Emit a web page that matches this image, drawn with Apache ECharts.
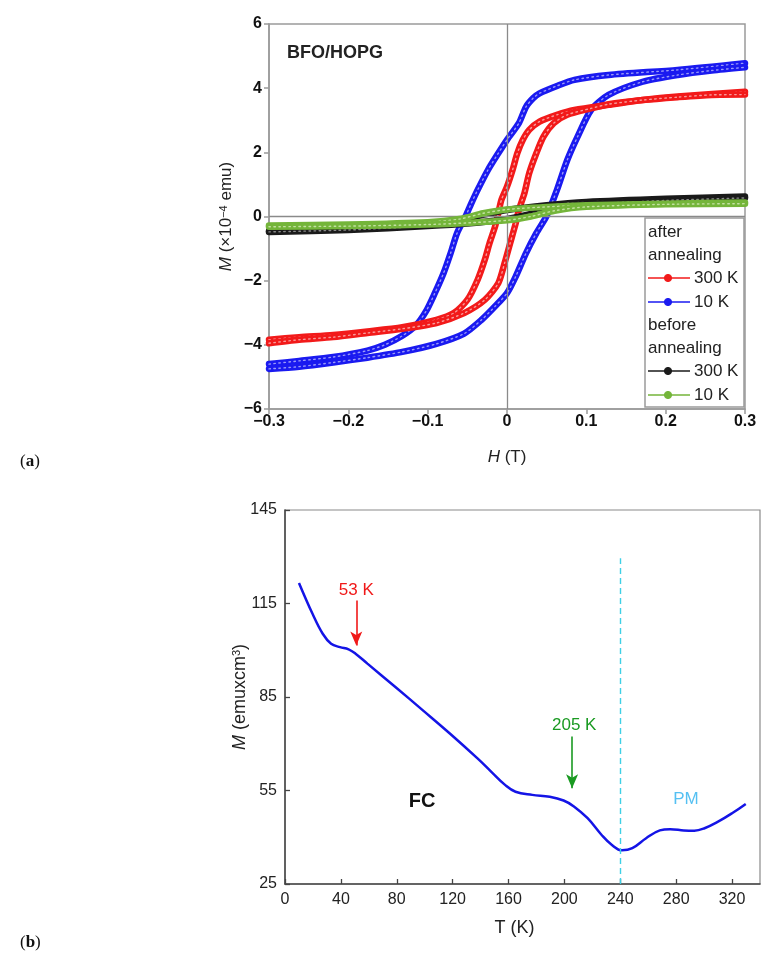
<!DOCTYPE html>
<html>
<head>
<meta charset="utf-8">
<script src="https://cdn.jsdelivr.net/npm/echarts@6/dist/echarts.min.js"></script>
<style>html,body{margin:0;padding:0;background:#fff}#c{width:783px;height:966px}</style>
</head>
<body>
<div id="c"></div>
<script>
// ---------- Panel (a): hysteresis loops, H (T) vs M (x10^-4 emu) ----------
const blueUpper = [[-0.3,-4.6],[-0.262,-4.5],[-0.219,-4.38],[-0.176,-4.18],[-0.154,-4.0],[-0.132,-3.72],[-0.115,-3.4],[-0.102,-2.95],[-0.091,-2.39],[-0.08,-1.77],[-0.071,-1.14],[-0.063,-0.52],[-0.052,0.02],[-0.045,0.41],[-0.037,0.83],[-0.024,1.45],[-0.011,1.97],[0,2.39],[0.015,2.91],[0.024,3.42],[0.033,3.69],[0.041,3.84],[0.063,4.07],[0.085,4.26],[0.128,4.41],[0.215,4.57],[0.3,4.78]];
const blueLower = [[-0.3,-4.75],[-0.262,-4.68],[-0.219,-4.55],[-0.176,-4.4],[-0.132,-4.22],[-0.089,-3.97],[-0.054,-3.65],[-0.032,-3.22],[-0.015,-2.8],[0,-2.39],[0.011,-1.87],[0.024,-1.14],[0.037,-0.52],[0.05,0.02],[0.063,0.83],[0.076,1.76],[0.089,2.49],[0.106,3.32],[0.128,3.79],[0.171,4.2],[0.215,4.41],[0.258,4.55],[0.3,4.65]];
const redUpper = [[-0.3,-3.84],[-0.262,-3.76],[-0.219,-3.69],[-0.176,-3.58],[-0.132,-3.45],[-0.089,-3.22],[-0.067,-3.01],[-0.05,-2.6],[-0.037,-1.97],[-0.028,-1.35],[-0.022,-0.83],[-0.015,-0.31],[-0.011,0.1],[-0.007,0.52],[0,0.93],[0.007,1.45],[0.013,1.97],[0.02,2.39],[0.028,2.7],[0.041,2.96],[0.063,3.17],[0.085,3.32],[0.128,3.48],[0.171,3.63],[0.215,3.74],[0.3,3.89]];
const redLower = [[-0.3,-3.95],[-0.262,-3.84],[-0.219,-3.76],[-0.176,-3.63],[-0.132,-3.5],[-0.089,-3.32],[-0.054,-3.01],[-0.028,-2.6],[-0.011,-2.08],[-0.003,-1.45],[0.004,-0.83],[0.011,-0.21],[0.015,0.21],[0.022,0.73],[0.028,1.35],[0.037,1.97],[0.046,2.49],[0.059,2.91],[0.076,3.17],[0.106,3.37],[0.128,3.5],[0.171,3.63],[0.215,3.72],[0.258,3.79],[0.3,3.8]];
const blackUpper = [[-0.3,-0.45],[-0.2,-0.38],[-0.1,-0.25],[-0.06,-0.12],[-0.03,0.05],[0,0.2],[0.05,0.35],[0.1,0.45],[0.2,0.55],[0.3,0.62]];
const blackLower = [[-0.3,-0.48],[-0.2,-0.42],[-0.1,-0.3],[-0.05,-0.22],[0,-0.08],[0.03,0.08],[0.06,0.25],[0.1,0.38],[0.2,0.5],[0.3,0.58]];
const greenUpper = [[-0.3,-0.28],[-0.2,-0.25],[-0.1,-0.18],[-0.06,-0.08],[-0.03,0.1],[0,0.22],[0.05,0.3],[0.1,0.35],[0.2,0.4],[0.3,0.44]];
const greenLower = [[-0.3,-0.32],[-0.2,-0.3],[-0.1,-0.25],[-0.05,-0.2],[0,-0.12],[0.03,0.0],[0.06,0.18],[0.1,0.3],[0.2,0.38],[0.3,0.4]];
const topXTicks = [-0.3, 0.3, 0.1];
const topYTicks = [-6, 6, 2];

// ---------- Panel (b): FC magnetization, T (K) vs M ----------
const fcT = [10,19.7,27,33,39.4,45.5,50.5,59,78.8,98.5,118,137.8,147.7,157.5,165,177,189.5,199.4,206.8,216.6,226.5,233.8,241.2,248.6,258.5,268.3,275.7,285.5,293,300.3,310,320,329.8];
const fcM = [121.6,111.7,105.3,102.1,101,100.3,98.9,95.7,88.3,80.8,73.3,65.3,61,56.8,54.6,53.6,53,51.8,49.9,46.1,40.8,37.6,35.8,36.5,39.7,42.2,42.6,42.2,42.1,42.9,45,47.7,50.7];
const botXTicks = [0, 340, 40];
const botYTicks = [25, 145, 30];
const tcLine = 240;       // dashed PM boundary (K)
const marks = [{label:'53 K', T:51}, {label:'205 K', T:205.5}];

const FONT = '"Liberation Sans", Arial, sans-serif';
const fmtMinus = v => { const r = Math.round(v*10)/10; return r < 0 ? '\u2212' + Math.abs(r) : String(r); };

const chart = echarts.init(document.getElementById('c'), null, {renderer:'canvas'});

function loop(name, data, color, inner, z) {
  return [{
    name, type:'line', xAxisIndex:0, yAxisIndex:0, data, showSymbol:false, smooth:0.25,
    z, lineStyle:{color, width:6.5, cap:'round', join:'round'}, itemStyle:{color}, silent:true, animation:false
  },{
    name, type:'line', xAxisIndex:0, yAxisIndex:0, data, showSymbol:false, smooth:0.25,
    z, lineStyle:{color:inner, width:1.4, type:[1.5,3.5], cap:'round'}, itemStyle:{color}, silent:true, animation:false
  }];
}

const legendItems = [
  {t:'after', y:232},
  {t:'annealing', y:255},
  {t:'300 K', y:278, c:'#f21a1a'},
  {t:'10 K', y:302, c:'#1a1af0'},
  {t:'before', y:325},
  {t:'annealing', y:348},
  {t:'300 K', y:371, c:'#1a1a1a'},
  {t:'10 K', y:395, c:'#74b53a'}
];
const graphics = [
  {type:'rect', shape:{x:645, y:218, width:99, height:189}, style:{fill:'#fff', stroke:'#9a9a9a', lineWidth:1.5}, z:100}
];
legendItems.forEach(it => {
  if (it.c) {
    graphics.push({type:'line', shape:{x1:648, y1:it.y, x2:690, y2:it.y}, style:{stroke:it.c, lineWidth:1.6}, z:101});
    graphics.push({type:'circle', shape:{cx:668, cy:it.y, r:3.6}, style:{fill:it.c, stroke:it.c}, z:102});
    graphics.push({type:'text', x:694, y:it.y, style:{text:it.t, fontSize:17, fontFamily:FONT, fill:'#222', verticalAlign:'middle'}, z:102});
  } else {
    graphics.push({type:'text', x:648, y:it.y, style:{text:it.t, fontSize:17, fontFamily:FONT, fill:'#222', verticalAlign:'middle'}, z:102});
  }
});
graphics.push({type:'text', x:287, y:53, style:{text:'BFO/HOPG', fontSize:18, fontWeight:'bold', fontFamily:FONT, fill:'#222', verticalAlign:'middle'}, z:50});
graphics.push({type:'text', x:20, y:462, style:{text:'({b|a})', fontSize:17, fontFamily:'"Liberation Serif", "DejaVu Serif", serif', fill:'#111', verticalAlign:'middle', rich:{b:{fontWeight:'bold', fontSize:17, fontFamily:'"Liberation Serif", serif'}}}});
graphics.push({type:'text', x:20, y:943, style:{text:'({b|b})', fontSize:17, fontFamily:'"Liberation Serif", "DejaVu Serif", serif', fill:'#111', verticalAlign:'middle', rich:{b:{fontWeight:'bold', fontSize:17, fontFamily:'"Liberation Serif", serif'}}}});

const option = {
  animation:false,
  backgroundColor:'#fff',
  textStyle:{fontFamily:FONT},
  grid:[
    {left:269, top:24, right:38, bottom:557, show:true, borderColor:'#9a9a9a', borderWidth:1.5, containLabel:false},
    {left:285, top:510, right:23, bottom:82, show:true, borderColor:'#8a8a8a', borderWidth:1.2, containLabel:false}
  ],
  xAxis:[
    {gridIndex:0, type:'value', min:topXTicks[0], max:topXTicks[1], interval:topXTicks[2],
     axisLine:{onZero:false, lineStyle:{color:'#9a9a9a', width:1.5}}, axisTick:{inside:false, length:5, lineStyle:{color:'#9a9a9a', width:1.5}},
     axisLabel:{formatter:fmtMinus, fontSize:16, fontWeight:'bold', color:'#111', margin:5, fontFamily:FONT},
     splitLine:{show:false},
     name:'{i|H} (T)', nameLocation:'middle', nameGap:40,
     nameTextStyle:{fontSize:17, color:'#222', fontFamily:FONT, rich:{i:{fontStyle:'italic', fontSize:17, fontFamily:FONT}}}},
    {gridIndex:1, type:'value', min:botXTicks[0], max:botXTicks[1], interval:botXTicks[2],
     axisLine:{onZero:false, lineStyle:{color:'#444', width:1.5}}, axisTick:{inside:true, length:5, lineStyle:{color:'#444', width:1.3}},
     axisLabel:{fontSize:16, color:'#222', margin:8, fontFamily:FONT, showMaxLabel:false},
     splitLine:{show:false},
     name:'T (K)', nameLocation:'middle', nameGap:35,
     nameTextStyle:{fontSize:18, color:'#222', fontFamily:FONT, padding:[0,16,0,0]}}
  ],
  yAxis:[
    {gridIndex:0, type:'value', min:topYTicks[0], max:topYTicks[1], interval:topYTicks[2],
     axisLine:{onZero:false, lineStyle:{color:'#9a9a9a', width:1.5}}, axisTick:{inside:false, length:5, lineStyle:{color:'#9a9a9a', width:1.5}},
     axisLabel:{formatter:fmtMinus, fontSize:16, fontWeight:'bold', color:'#111', margin:7, fontFamily:FONT},
     splitLine:{show:false},
     name:'{i|M} (\u00d710{s|\u22124} emu)', nameLocation:'middle', nameGap:34, nameRotate:90, nameMoveOverlap:false,
     nameTextStyle:{fontSize:17, color:'#222', fontFamily:FONT, rich:{i:{fontStyle:'italic', fontSize:17, fontFamily:FONT}, s:{fontSize:11, verticalAlign:'top', fontFamily:FONT}}}},
    {gridIndex:1, type:'value', min:botYTicks[0], max:botYTicks[1], interval:botYTicks[2],
     axisLine:{onZero:false, lineStyle:{color:'#444', width:1.5}}, axisTick:{inside:true, length:5, lineStyle:{color:'#444', width:1.3}},
     axisLabel:{fontSize:16, color:'#222', margin:8, fontFamily:FONT},
     splitLine:{show:false},
     name:'{i|M} (emuxcm{s|3})', nameLocation:'middle', nameGap:36, nameRotate:90, nameMoveOverlap:false,
     nameTextStyle:{fontSize:18, color:'#222', fontFamily:FONT, rich:{i:{fontStyle:'italic', fontSize:18, fontFamily:FONT}, s:{fontSize:11, verticalAlign:'top', fontFamily:FONT}}}}
  ],
  graphic: graphics,
  series:[
    {type:'line', xAxisIndex:0, yAxisIndex:0, data:[], silent:true, z:1,
     markLine:{silent:true, symbol:['none','none'], label:{show:false}, lineStyle:{color:'#8a8a8a', width:1.3, type:'solid'},
       data:[{xAxis:0},{yAxis:0}]}},
    ...loop('10 K after', blueUpper, '#1a1af0', '#9a9af8', 2),
    ...loop('10 K after', blueLower, '#1a1af0', '#9a9af8', 2),
    ...loop('300 K after', redUpper, '#f21a1a', '#f89a9a', 3),
    ...loop('300 K after', redLower, '#f21a1a', '#f89a9a', 3),
    ...loop('300 K before', blackUpper, '#1a1a1a', '#888888', 4),
    ...loop('300 K before', blackLower, '#1a1a1a', '#888888', 4),
    ...loop('10 K before', greenUpper, '#74b53a', '#c4e0a4', 5),
    ...loop('10 K before', greenLower, '#74b53a', '#c4e0a4', 5),
    {name:'FC', type:'line', xAxisIndex:1, yAxisIndex:1, data:fcT.map((t,i)=>[t,fcM[i]]), showSymbol:false, smooth:0.4,
     lineStyle:{color:'#1414e6', width:2.5}, itemStyle:{color:'#1414e6'}, silent:true, z:3},
    {type:'line', xAxisIndex:1, yAxisIndex:1, data:[], silent:true, z:2,
     markLine:{silent:true, label:{show:false}, animation:false,
       data:[
         [{coord:[tcLine,25], symbol:'none', lineStyle:{color:'#3fd0e6', width:1.4, type:[6,4]}}, {coord:[tcLine,129.5], symbol:'none'}],
         [{coord:[marks[0].T,116], symbol:'none', lineStyle:{color:'#f01818', width:1.6, type:'solid'}}, {coord:[marks[0].T,101.5], symbol:'arrow', symbolSize:[9,14]}],
         [{coord:[marks[1].T,72.3], symbol:'none', lineStyle:{color:'#1a9a22', width:1.6, type:'solid'}}, {coord:[marks[1].T,55.7], symbol:'arrow', symbolSize:[9,14]}]
       ]},
     markPoint:{silent:true, symbol:'circle', symbolSize:0,
       data:[
         {coord:[marks[0].T,119.2], label:{show:true, position:'inside', formatter:marks[0].label, fontSize:17, color:'#f01818', fontFamily:FONT}},
         {coord:[207,76], label:{show:true, position:'inside', formatter:marks[1].label, fontSize:17, color:'#1a9a22', fontFamily:FONT}},
         {coord:[98.2,51.4], label:{show:true, position:'inside', formatter:'FC', fontSize:20, fontWeight:'bold', color:'#111', fontFamily:FONT}},
         {coord:[287,52.2], label:{show:true, position:'inside', formatter:'PM', fontSize:17, color:'#55c0f2', fontFamily:FONT}}
       ]}}
  ]
};
chart.setOption(option);
</script>
</body>
</html>
